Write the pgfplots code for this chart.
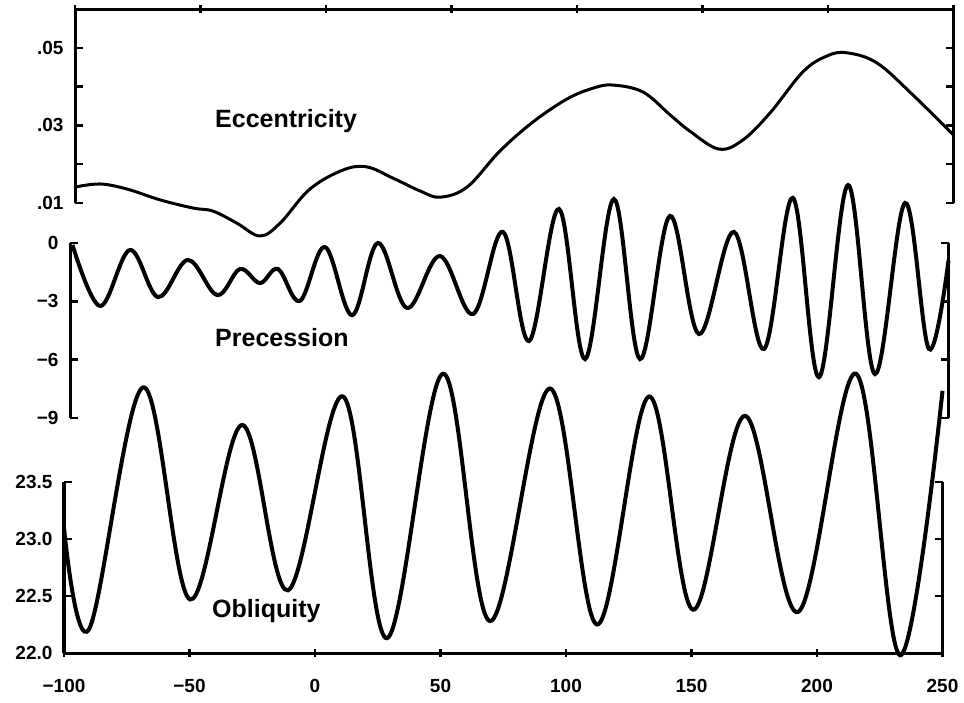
\documentclass[border=0pt]{standalone}
\usepackage{fontspec}
\setmainfont{Liberation Sans}
\usepackage{pgfplots}
\pgfplotsset{compat=1.18}

\pgfplotsset{
  every non boxed x axis/.append style={x axis line style={-}},
  every non boxed y axis/.append style={y axis line style={-}},
  orbit/.style={
    scale only axis,
    width=878.5pt,
    xmin=-100, xmax=250,
    clip=false,
    anchor=south west,
    axis line style={line width=3pt, -},
    tick style={line width=2.5pt, black},
    major tick length=8pt,
    tick align=inside,
    xtick={-100,-50,...,250},
    scaled ticks=false,
    ticklabel style={font=\fontsize{19}{19}\selectfont\bfseries},
    /pgf/number format/assume math mode=true,
    yticklabel pos=left,
    yticklabel style={xshift=-8pt},
}}

\begin{document}
\begin{tikzpicture}
\path[use as bounding box] (0,0) rectangle (964pt,702pt);

% eccentricity
\begin{axis}[orbit,
    at={(75pt,499pt)}, height=194pt,
    ymin=0.01, ymax=0.06,
    axis x line=top, axis y line=box,
    x axis line style={-},
    xticklabels={{},{},{},{},{},{},{},{}},
    ytick={0.01,0.02,0.03,0.04,0.05},
    yticklabels={.01,,.03,,.05},
]
\addplot[black, line width=3pt, smooth, tension=0.6] coordinates {
    (-100,0.0141) (-90.0,0.0149) (-79.3,0.0136) (-66.1,0.0108) (-53.0,0.0087)
    (-45.0,0.0079) (-35.5,0.0048) (-26.3,0.0015) (-18.3,0.0048) (-6.4,0.0136)
    (6.8,0.0185) (16.3,0.0193) (26.7,0.0164) (37.5,0.0131) (45.4,0.0115)
    (56.2,0.0141) (69.3,0.0234) (82.5,0.0309) (96.0,0.0368) (106.4,0.0396)
    (114.3,0.0404) (126.3,0.0386) (137.1,0.0327) (145.0,0.0285) (156.5,0.0239)
    (166.0,0.0262) (176.9,0.0332) (190.0,0.0438) (199.6,0.0479) (207.6,0.0487)
    (219.5,0.0461) (233.9,0.0378) (250,0.0275)
};
\end{axis}

% precession
\begin{axis}[orbit,
    at={(70pt,284pt)}, height=175pt,
    ymin=-9, ymax=0,
    axis x line=none, axis y line=box,
    ytick={-9,-6,-3,0},
    yticklabels={−9,−6,−3,0},
]
\addplot[black, line width=4pt, smooth, tension=0.6] coordinates {
    (-99,-0.1) (-88.0,-3.24) (-76.1,-0.36) (-64.9,-2.78) (-53.0,-0.87)
    (-41.4,-2.68) (-32.3,-1.34) (-24.3,-2.06) (-17.1,-1.34) (-8.4,-2.98)
    (1.6,-0.21) (12.4,-3.71) (22.7,0.0) (34.3,-3.34) (47.4,-0.67)
    (60.6,-3.65) (72.5,0.57) (82.9,-5.04) (94.8,1.75) (105.2,-5.97)
    (116.7,2.26) (127.1,-5.97) (139.0,1.39) (150.6,-4.68) (164.5,0.57)
    (176.5,-5.45) (188.0,2.32) (198.4,-6.90) (210.0,2.98) (220.7,-6.74)
    (232.7,2.06) (242.2,-5.45) (250,-0.9)
};
\end{axis}

% obliquity
\begin{axis}[orbit,
    at={(64pt,49pt)}, height=171pt,
    ymin=22, ymax=23.5,
    axis x line=bottom, axis y line=box,
    x axis line style={-},
    xticklabels={−100,−50,0,50,100,150,200,250},
    xticklabel style={yshift=-19pt},
    ytick={22,22.5,23,23.5},
    yticklabels={22.0,22.5,23.0,23.5},
]
\addplot[black, line width=4pt, smooth, tension=0.6] coordinates {
    (-100,23.10) (-90.0,22.21) (-68.5,24.33) (-49.8,22.47) (-29.1,24.00)
    (-10.8,22.55) (11.2,24.25) (28.7,22.13) (51.0,24.45) (69.7,22.28)
    (93.6,24.32) (112.4,22.25) (133.1,24.25) (150.6,22.38) (171.3,24.08)
    (192.4,22.36) (215.5,24.45) (233.1,21.98) (250,24.30)
};
\end{axis}

\node[anchor=base west, inner sep=0, font=\fontsize{25}{25}\selectfont\bfseries] at (215pt,574pt) {Eccentricity};
\node[anchor=base west, inner sep=0, font=\fontsize{25}{25}\selectfont\bfseries] at (215pt,355pt) {Precession};
\node[anchor=base west, inner sep=0, font=\fontsize{25}{25}\selectfont\bfseries] at (212pt,85pt) {Obliquity};
\end{tikzpicture}
\end{document}
